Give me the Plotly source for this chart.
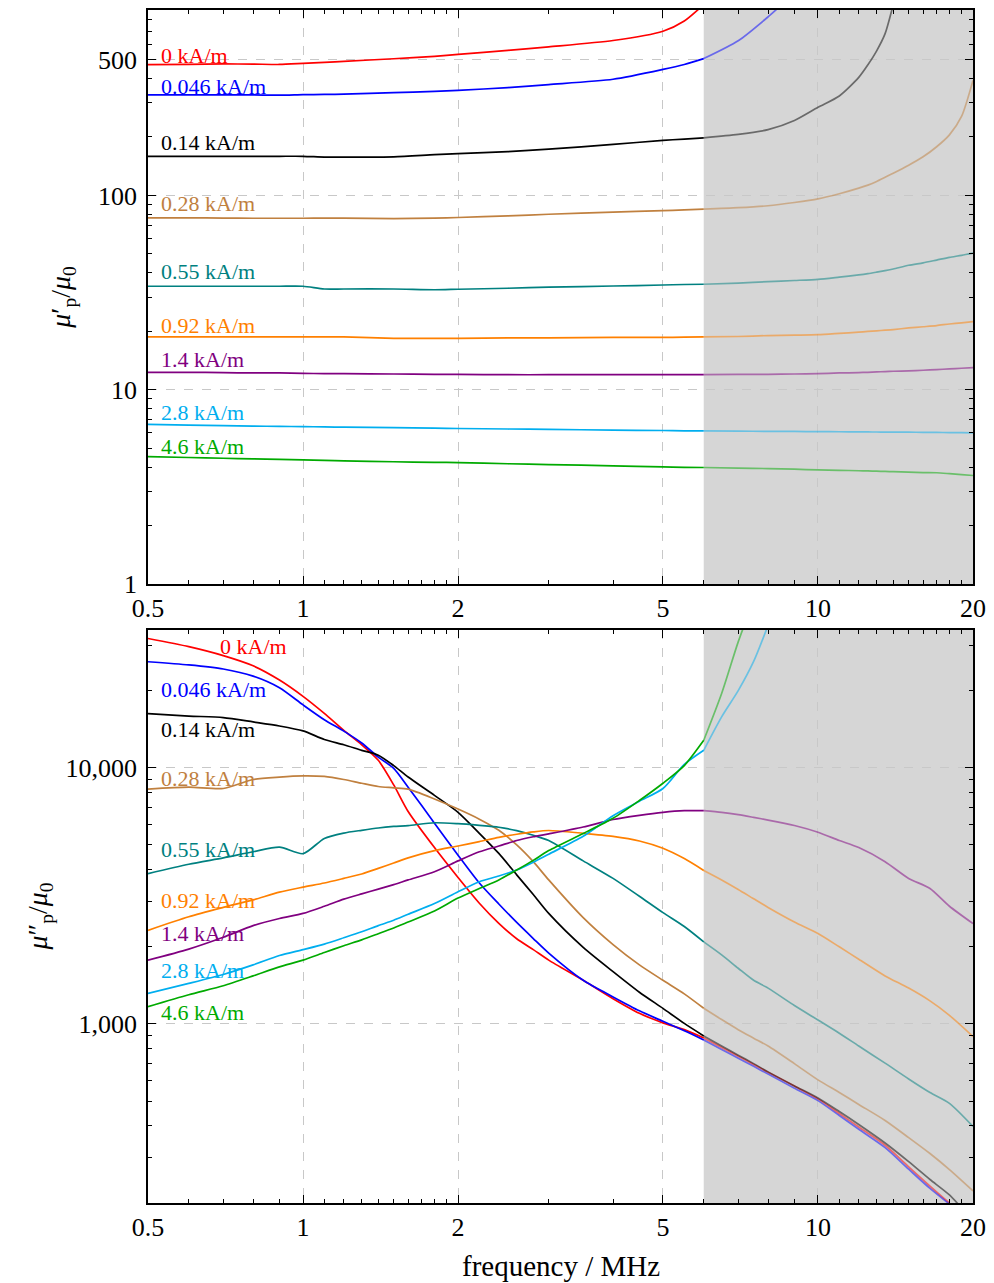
import numpy as np
import plotly.graph_objects as go

# ---------------- data ----------------
FIELDS = ["0", "0.046", "0.14", "0.28", "0.55", "0.92", "1.4", "2.8", "4.6"]
COLORS = ["#ff0000", "#0000ff", "#000000", "#c0803f", "#008080",
          "#ff8000", "#800080", "#00aeef", "#00aa00"]
SHADE_START = 6.0
SHADE_END = 20.0

# top panel: real part mu'_p / mu_0
F_TOP = [0.5, 0.6, 0.7, 0.8, 0.9, 1.0, 1.1, 1.2, 1.5, 1.8, 2, 2.5, 3, 4, 5, 5.5,
         6, 7, 8, 9, 10, 11, 12, 12.5, 13, 13.5, 14, 15, 16, 17, 18, 19, 20]
MU1_0 = [471, 473, 475, 474, 472, 478, 484, 490, 505, 520, 532, 558, 582, 627, 700, 790,
         960, None, None, None, None, None, None, None, None, None, None, None, None, None, None, None, None]
MU1_046 = [329, 329, 329, 329, 328, 330, 331, 332, 338, 343, 347, 359, 372, 396, 445, 472,
           506, 625, 830, 1100, None, None, None, None, None, None, None, None, None, None, None, None, None]
MU1_14 = [159, 159, 159, 159, 159, 159, 157.5, 157.5, 158, 162, 164, 168, 173, 183, 192, 195,
          198, 206, 218, 243, 284, 325, 405, 470, 555, 680, 960, None, None, None, None, None, None]
MU1_28 = [76.7, 76.7, 76.5, 76.3, 76.3, 76.3, 76.4, 76.4, 76.0, 76.5, 77, 78.5, 80, 82, 83.5, 84.2,
          85, 86.5, 88.5, 92, 96, 102, 109, 113, 118, 124, 130, 143, 158, 178, 205, 255, 391]
MU1_55 = [34.1, 34.1, 34.1, 34.1, 34.1, 34.1, 33.0, 33.0, 33.0, 32.7, 32.9, 33.3, 33.7, 34.2, 34.6, 34.8,
          34.9, 35.4, 36.0, 36.5, 37.0, 38.0, 39.0, 39.6, 40.3, 41.0, 41.8, 43.7, 45.0, 46.5, 48.0, 49.2, 50.5]
MU1_92 = [18.7, 18.7, 18.7, 18.7, 18.7, 18.7, 18.7, 18.7, 18.4, 18.4, 18.4, 18.5, 18.5, 18.6, 18.6, 18.65,
          18.7, 18.8, 19.0, 19.1, 19.2, 19.5, 19.8, 19.95, 20.1, 20.25, 20.4, 20.8, 21.1, 21.4, 21.8, 22.1, 22.4]
MU1_140 = [12.3, 12.3, 12.25, 12.2, 12.2, 12.15, 12.1, 12.1, 12.05, 12.0, 12.0, 11.95, 11.95, 11.95, 11.95, 11.95,
           11.95, 12.0, 12.0, 12.05, 12.1, 12.2, 12.25, 12.3, 12.35, 12.4, 12.45, 12.5, 12.6, 12.7, 12.8, 12.9, 13.0]
MU1_280 = [6.63, 6.58, 6.54, 6.50, 6.48, 6.46, 6.44, 6.42, 6.38, 6.34, 6.32, 6.28, 6.25, 6.20, 6.17, 6.15,
           6.14, 6.12, 6.11, 6.10, 6.09, 6.08, 6.07, 6.065, 6.06, 6.055, 6.05, 6.05, 6.04, 6.03, 6.02, 6.01, 6.00]
MU1_460 = [4.53, 4.48, 4.44, 4.41, 4.38, 4.36, 4.33, 4.31, 4.26, 4.23, 4.22, 4.16, 4.12, 4.06, 4.01, 3.99,
           3.98, 3.95, 3.93, 3.90, 3.87, 3.85, 3.83, 3.82, 3.81, 3.80, 3.79, 3.77, 3.75, 3.74, 3.70, 3.66, 3.62]

# bottom panel: imaginary part mu''_p / mu_0
F_BOT = [0.5, 0.6, 0.7, 0.8, 0.9, 1.0, 1.1, 1.2, 1.3, 1.4, 1.5, 1.6, 1.8, 2.0, 2.2, 2.4, 2.6, 2.8,
         3.0, 3.5, 4.0, 4.5, 5.0, 5.5, 6.0, 6.5, 7, 7.5, 8, 9, 10, 11, 12, 13.5, 15, 16.5, 18, 20]
MU2_0 = [31970, 29700, 27400, 25000, 22000, 19000, 16300, 14000, 12300, 10700, 8570, 6750, 4880,
         3730, 2960, 2470, 2150, 1950, 1775, 1480, 1255, 1100, 1010, 950, 882, 810, 748, 695,
         648, 572, 510, 447, 396, 336, 277, 233, 200, None]
MU2_046 = [25930, 25200, 24300, 22790, 20530, 17600, 15400, 13900, 12500, 11000, 9950, 8400, 6080,
           4560, 3550, 2940, 2490, 2155, 1890, 1480, 1275, 1125, 1024, 940, 866, 795, 734, 683,
           637, 561, 502, 439, 388, 329, 271, 228, 198, None]
MU2_14 = [16270, 15920, 15700, 15100, 14560, 13930, 12900, 12300, 11700, 11200, 10200, 9200, 7800,
          6700, 5550, 4630, 3820, 3200, 2700, 1990, 1600, 1330, 1150, 1005, 898, 820, 755, 700,
          650, 573, 514, 455, 405, 343, 290, 247, 215, 170]
MU2_28 = [8260, 8400, 8300, 9000, 9200, 9300, 9250, 9000, 8700, 8450, 8350, 8250, 7550,
          6900, 6300, 5700, 5000, 4300, 3650, 2600, 2040, 1700, 1480, 1310, 1151, 1040, 950, 880,
          820, 700, 605, 540, 485, 420, 360, 312, 270, 223]
MU2_55 = [3860, 4200, 4450, 4700, 4900, 4620, 5300, 5560, 5700, 5820, 5900, 5950, 6100,
          6050, 5960, 5860, 5680, 5450, 5200, 4330, 3700, 3150, 2720, 2400, 2090, 1860, 1650, 1480,
          1380, 1180, 1036, 920, 820, 703, 610, 540, 490, 398]
MU2_92 = [2320, 2620, 2850, 3050, 3270, 3420, 3550, 3700, 3850, 4050, 4250, 4450, 4750,
          4950, 5150, 5350, 5500, 5620, 5690, 5550, 5400, 5180, 4850, 4420, 3974, 3650, 3350, 3080,
          2850, 2500, 2254, 2000, 1790, 1540, 1380, 1230, 1080, 893]
MU2_140 = [1774, 1960, 2180, 2420, 2580, 2700, 2880, 3070, 3220, 3360, 3500, 3650, 3930,
           4330, 4700, 4950, 5200, 5380, 5520, 5870, 6280, 6520, 6700, 6800, 6805, 6700, 6560, 6400,
           6250, 5950, 5600, 5200, 4880, 4300, 3700, 3380, 2880, 2465]
MU2_280 = [1316, 1440, 1560, 1700, 1850, 1950, 2050, 2170, 2290, 2420, 2540, 2680, 2950,
           3280, 3590, 3780, 3990, 4280, 4600, 5400, 6500, 7400, 8300, 10300, 11700, 15800, 20000, 26000,
           36000, None, None, None, None, None, None, None, None, None]
MU2_460 = [1168, 1300, 1410, 1540, 1670, 1774, 1900, 2020, 2130, 2250, 2370, 2500, 2760,
           3100, 3380, 3650, 3990, 4350, 4750, 5540, 6350, 7450, 8700, 10200, 12800, 19500, 31000, 45000,
           None, None, None, None, None, None, None, None, None, None]

TOP_SERIES = [MU1_0, MU1_046, MU1_14, MU1_28, MU1_55, MU1_92, MU1_140, MU1_280, MU1_460]
BOT_SERIES = [MU2_0, MU2_046, MU2_14, MU2_28, MU2_55, MU2_92, MU2_140, MU2_280, MU2_460]

# label anchor values (data units)
TOP_LABEL_Y = [525, 364, 188, 91.3, 40.4, 21.3, 14.3, 7.62, 5.09]
BOT_LABEL_Y = [29830, 20120, 14060, 9060, 4797, 3038, 2259, 1622, 1104]
BOT_LABEL_X = [0.684, 0.5, 0.5, 0.5, 0.5, 0.5, 0.5, 0.5, 0.5]

X_TICKS = [0.5, 1, 2, 5, 10, 20]
X_MINOR = [0.6, 0.7, 0.8, 0.9, 1.1, 1.2, 1.3, 1.4, 1.5, 1.6, 1.7, 1.8, 1.9,
           3, 4, 6, 7, 8, 9, 11, 12, 13, 14, 15, 16, 17, 18, 19]
Y1_TICKS = [1, 10, 100, 500]
Y1_TEXT = ["1", "10", "100", "500"]
Y1_MINOR = [2, 3, 4, 5, 6, 7, 8, 9, 20, 30, 40, 50, 60, 70, 80, 90, 200, 300, 400, 600, 700, 800, 900]
Y2_TICKS = [1000, 10000]
Y2_TEXT = ["1,000", "10,000"]
Y2_MINOR = [200, 300, 400, 500, 600, 700, 800, 900, 2000, 3000, 4000, 5000, 6000,
            7000, 8000, 9000, 20000, 30000]

# ---------------- figure ----------------
FONT = "Liberation Serif"
fig = go.Figure()


def add_series(freqs, vals, color, xa, ya):
    f = np.array(freqs, dtype=float)
    v = np.array([np.nan if q is None else q for q in vals], dtype=float)
    m1 = f <= SHADE_START
    m2 = f >= SHADE_START
    ln = dict(color=color, width=1.7, shape="spline", smoothing=0.7)
    fig.add_trace(go.Scatter(x=f[m1], y=v[m1], mode="lines", xaxis=xa, yaxis=ya,
                             line=ln, showlegend=False, connectgaps=False, hoverinfo="skip"))
    fig.add_trace(go.Scatter(x=f[m2], y=v[m2], mode="lines", xaxis=xa, yaxis=ya,
                             line=ln, opacity=0.5, showlegend=False,
                             connectgaps=False, hoverinfo="skip"))


for vals, col in zip(TOP_SERIES, COLORS):
    add_series(F_TOP, vals, col, "x", "y")
for vals, col in zip(BOT_SERIES, COLORS):
    add_series(F_BOT, vals, col, "x2", "y2")

# shaded frequency band
for xr, yr in (("x", "y domain"), ("x2", "y2 domain")):
    fig.add_shape(type="rect", xref=xr, yref=yr, x0=SHADE_START, x1=SHADE_END, y0=0, y1=1,
                  fillcolor="#d6d6d6", line=dict(width=0), layer="below")

# series labels
for lab, col, yv in zip(FIELDS, COLORS, TOP_LABEL_Y):
    fig.add_annotation(x=np.log10(0.5), y=np.log10(yv), xref="x", yref="y",
                       text=f"{lab} kA/m", showarrow=False, xanchor="left", yanchor="middle",
                       xshift=11, font=dict(family=FONT, size=22, color=col))
for lab, col, yv, xv in zip(FIELDS, COLORS, BOT_LABEL_Y, BOT_LABEL_X):
    fig.add_annotation(x=np.log10(xv), y=np.log10(yv), xref="x2", yref="y2",
                       text=f"{lab} kA/m", showarrow=False, xanchor="left", yanchor="middle",
                       xshift=11 if xv == 0.5 else 0, font=dict(family=FONT, size=22, color=col))

axis_common = dict(
    type="log", showline=True, linecolor="black", linewidth=1.8, mirror="ticks",
    ticks="inside", ticklen=8, tickwidth=1.3, tickcolor="black",
    showgrid=True, gridcolor="#c8c8c8", griddash="dash", gridwidth=1,
    zeroline=False, tickfont=dict(family=FONT, size=26, color="black"),
)

xa = dict(axis_common, range=[np.log10(0.5), np.log10(20)], tickmode="array",
          tickvals=X_TICKS, ticktext=[str(v) for v in X_TICKS],
          minor=dict(tickmode="array", tickvals=X_MINOR, ticks="inside", ticklen=4,
                     tickwidth=1, tickcolor="black", showgrid=False))

fig.update_layout(
    width=994, height=1283,
    margin=dict(l=148, r=19, t=8, b=80),
    paper_bgcolor="white", plot_bgcolor="white",
    font=dict(family=FONT, color="black"),
    xaxis=dict(xa, domain=[0, 1], anchor="y"),
    xaxis2=dict(xa, domain=[0, 1], anchor="y2"),
    yaxis=dict(axis_common, domain=[0.5188, 1.0], anchor="x", ticklabelstandoff=4,
               range=[0, np.log10(900)], tickmode="array", tickvals=Y1_TICKS, ticktext=Y1_TEXT,
               minor=dict(tickmode="array", tickvals=Y1_MINOR, ticks="inside", ticklen=4,
                          tickwidth=1, tickcolor="black", showgrid=False)),
    yaxis2=dict(axis_common, domain=[0.0, 0.4803], anchor="x2", ticklabelstandoff=4,
                range=[np.log10(200), np.log10(34500)], tickmode="array", tickvals=Y2_TICKS,
                ticktext=Y2_TEXT,
                minor=dict(tickmode="array", tickvals=Y2_MINOR, ticks="inside", ticklen=4,
                           tickwidth=1, tickcolor="black", showgrid=False)),
)

# axis titles
fig.add_annotation(xref="paper", yref="paper", x=-0.104, y=0.759, textangle=-90,
                   text="<i>μ</i>′<sub>p</sub>/<i>μ</i><sub>0</sub>", showarrow=False,
                   xanchor="center", yanchor="middle", font=dict(family=FONT, size=28))
fig.add_annotation(xref="paper", yref="paper", x=-0.131, y=0.240, textangle=-90,
                   text="<i>μ</i>″<sub>p</sub>/<i>μ</i><sub>0</sub>", showarrow=False,
                   xanchor="center", yanchor="middle", font=dict(family=FONT, size=28))
fig.add_annotation(xref="paper", yref="paper", x=0.5, y=-0.0527,
                   text="frequency / MHz", showarrow=False,
                   xanchor="center", yanchor="middle", font=dict(family=FONT, size=29))

fig.write_html("out.html")
